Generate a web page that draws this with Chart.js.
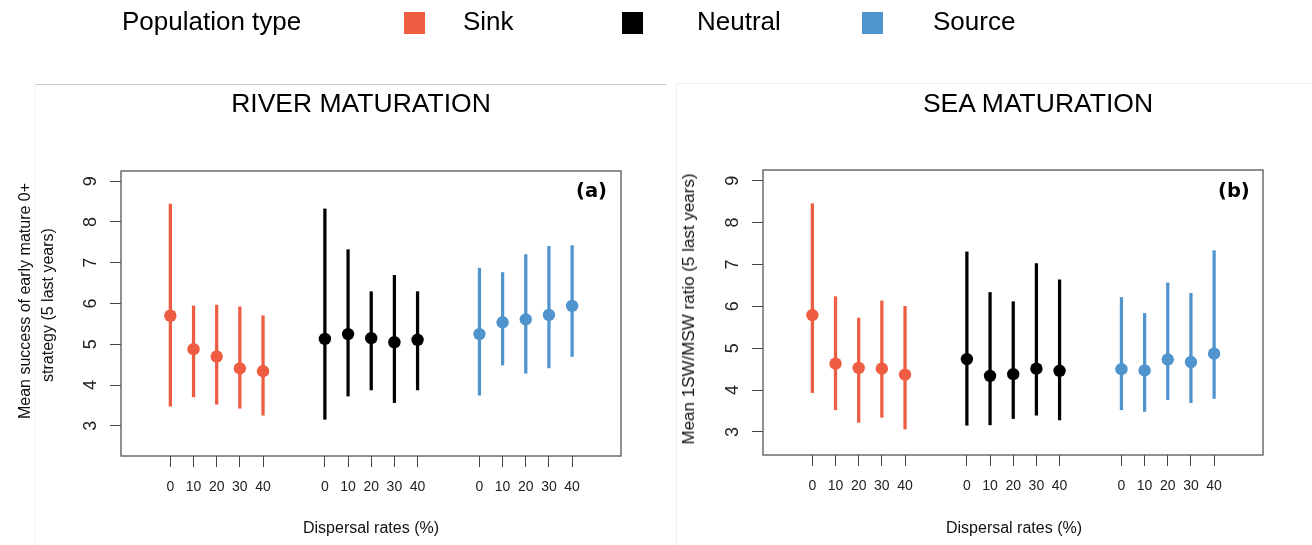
<!DOCTYPE html>
<html>
<head>
<meta charset="utf-8">
<script src="https://cdn.jsdelivr.net/npm/chart.js@4.4.1/dist/chart.umd.min.js"></script>
<style>
body { margin: 0; background: #fff; width: 1312px; height: 545px; position: relative; overflow: hidden; font-family: "Liberation Sans", Arial, sans-serif; color: #000; }
.t { position: absolute; white-space: nowrap; }
.sq { position: absolute; width: 21px; height: 22px; top: 12px; }
.rot { position: absolute; white-space: nowrap; transform: translate(-50%, -50%) rotate(-90deg); font-size: 16px; color: #111; }
.ttl { position: absolute; white-space: nowrap; transform: translateX(-50%); font-size: 26.5px; top: 88px; }
.xt { position: absolute; white-space: nowrap; transform: translateX(-50%); font-size: 16px; top: 519px; color: #111; }
.tag { position: absolute; font-family: "DejaVu Sans", sans-serif; font-weight: bold; font-size: 19.5px; top: 179px; }
canvas { position: absolute; top: 0; }
</style>
</head>
<body>
<div style="position:absolute;left:35px;top:84px;width:630px;height:470px;border-top:1.5px solid #c8c8c8;border-left:1px solid #f3f3f3;"></div>
<div style="position:absolute;left:676px;top:83px;width:640px;height:470px;border-top:1px solid #eeeeee;border-left:1px solid #eeeeee;"></div>

<canvas id="river" width="665" height="545" style="left:0px"></canvas>
<canvas id="sea" width="647" height="545" style="left:665px"></canvas>

<div class="t" style="left:122px;top:6px;font-size:26px;">Population type</div>
<div class="sq" style="left:404px;background:#EE5C42;"></div>
<div class="t" style="left:463px;top:6px;font-size:26px;">Sink</div>
<div class="sq" style="left:622px;background:#000;"></div>
<div class="t" style="left:697px;top:6px;font-size:26px;">Neutral</div>
<div class="sq" style="left:862px;background:#4F94CD;"></div>
<div class="t" style="left:933px;top:6px;font-size:26px;">Source</div>

<div class="ttl" style="left:361px;">RIVER MATURATION</div>
<div class="ttl" style="left:1038px;">SEA MATURATION</div>

<div class="rot" style="left:25px;top:301px;">Mean success of early mature 0+</div>
<div class="rot" style="left:48px;top:305px;">strategy (5 last years)</div>
<div class="rot" style="left:689px;top:309px;font-size:17px;">Mean 1SW/MSW ratio (5 last years)</div>

<div class="xt" style="left:371px;">Dispersal rates (%)</div>
<div class="xt" style="left:1014px;">Dispersal rates (%)</div>

<div class="tag" style="left:576px;">(a)</div>
<div class="tag" style="left:1218px;">(b)</div>

<script>
var rates = ['0', '10', '20', '30', '40'];
var groups = ['Sink', 'Neutral', 'Source'];
var groupColors = ['#EE5C42', '#000000', '#4F94CD'];
var yTicks = [3, 4, 5, 6, 7, 8, 9];

// river maturation: mean, lower and upper end of each bar
var riverSinkMean = [5.70, 4.88, 4.70, 4.41, 4.34];
var riverSinkLow = [3.48, 3.71, 3.53, 3.43, 3.26];
var riverSinkHigh = [8.44, 5.94, 5.96, 5.92, 5.70];
var riverNeutralMean = [5.13, 5.25, 5.15, 5.05, 5.11];
var riverNeutralLow = [3.16, 3.73, 3.88, 3.57, 3.88];
var riverNeutralHigh = [8.32, 7.32, 6.29, 6.69, 6.29];
var riverSourceMean = [5.25, 5.54, 5.61, 5.72, 5.94];
var riverSourceLow = [3.75, 4.49, 4.29, 4.42, 4.70];
var riverSourceHigh = [6.87, 6.76, 7.20, 7.40, 7.42];

// sea maturation
var seaSinkMean = [5.79, 4.63, 4.53, 4.51, 4.37];
var seaSinkLow = [3.94, 3.53, 3.23, 3.35, 3.07];
var seaSinkHigh = [8.45, 6.23, 5.72, 6.13, 6.00];
var seaNeutralMean = [4.74, 4.34, 4.38, 4.51, 4.46];
var seaNeutralLow = [3.16, 3.17, 3.32, 3.40, 3.29];
var seaNeutralHigh = [7.30, 6.33, 6.11, 7.02, 6.63];
var seaSourceMean = [4.50, 4.47, 4.73, 4.67, 4.87];
var seaSourceLow = [3.53, 3.49, 3.77, 3.70, 3.80];
var seaSourceHigh = [6.21, 5.83, 6.56, 6.31, 7.33];

// slot of each rate on the x axis, groups separated by a gap
var groupGap = 6.67;
function slot(g, i) { return g * groupGap + i; }
var allSlots = [];
for (var g = 0; g < groups.length; g++) {
    for (var i = 0; i < rates.length; i++) allSlots.push(slot(g, i));
}

var boxPlugin = {
    id: 'rbox',
    afterDraw: function (chart) {
        var ctx = chart.ctx;
        var a = chart.chartArea;
        ctx.save();
        ctx.strokeStyle = '#555';
        ctx.lineWidth = 1.3;
        ctx.strokeRect(a.left, a.top, a.right - a.left, a.bottom - a.top);

        ctx.fillStyle = '#222';
        ctx.font = '18px "Liberation Sans", Arial, sans-serif';
        ctx.textAlign = 'center';
        ctx.textBaseline = 'middle';
        var ys = chart.scales.y;
        ys.ticks.forEach(function (t) {
            var py = ys.getPixelForValue(t.value);
            ctx.save();
            ctx.translate(a.left - 30, py);
            ctx.rotate(-Math.PI / 2);
            ctx.fillText(String(t.value), 0, 0);
            ctx.restore();
        });

        ctx.font = '14px "Liberation Sans", Arial, sans-serif';
        var xs = chart.scales.x;
        xs.ticks.forEach(function (t, k) {
            ctx.fillText(rates[k % rates.length], xs.getPixelForValue(t.value), a.bottom + 31);
        });
        ctx.restore();
    }
};

function makeChart(id, means, lows, highs, yMin, yMax, pad) {
    var datasets = [];
    for (var g = 0; g < groups.length; g++) {
        var bars = [], dots = [];
        for (var i = 0; i < rates.length; i++) {
            bars.push({ x: slot(g, i), y: [lows[g][i], highs[g][i]] });
            dots.push({ x: slot(g, i), y: means[g][i] });
        }
        datasets.push({
            type: 'bar',
            label: groups[g],
            data: bars,
            backgroundColor: groupColors[g],
            borderWidth: 0,
            barThickness: 2.6,
            grouped: false,
            order: 2
        });
        datasets.push({
            type: 'scatter',
            label: groups[g],
            data: dots,
            backgroundColor: groupColors[g],
            borderWidth: 0,
            pointRadius: 6.2,
            pointHoverRadius: 6.2,
            order: 1
        });
    }

    return new Chart(document.getElementById(id), {
        type: 'bar',
        data: { datasets: datasets },
        options: {
            responsive: false,
            animation: false,
            events: [],
            layout: { padding: pad },
            plugins: { legend: { display: false }, tooltip: { enabled: false } },
            scales: {
                x: {
                    type: 'linear',
                    min: -2.13,
                    max: 19.45,
                    offset: false,
                    afterFit: function (s) { s.height = 0; },
                    afterBuildTicks: function (s) { s.ticks = allSlots.map(function (v) { return { value: v }; }); },
                    grid: { offset: false, drawOnChartArea: false, drawTicks: true, tickLength: 11, color: '#444', lineWidth: 1 },
                    border: { display: false },
                    ticks: { display: false, autoSkip: false }
                },
                y: {
                    type: 'linear',
                    min: yMin,
                    max: yMax,
                    afterFit: function (s) { s.width = 0; },
                    afterBuildTicks: function (s) { s.ticks = yTicks.map(function (v) { return { value: v }; }); },
                    grid: { drawOnChartArea: false, drawTicks: true, tickLength: 11, color: '#444', lineWidth: 1 },
                    border: { display: false },
                    ticks: { display: false, autoSkip: false }
                }
            }
        },
        plugins: [boxPlugin]
    });
}

makeChart('river',
    [riverSinkMean, riverNeutralMean, riverSourceMean],
    [riverSinkLow, riverNeutralLow, riverSourceLow],
    [riverSinkHigh, riverNeutralHigh, riverSourceHigh],
    2.26, 9.25, { left: 121, top: 171, right: 44, bottom: 89 });

makeChart('sea',
    [seaSinkMean, seaNeutralMean, seaSourceMean],
    [seaSinkLow, seaNeutralLow, seaSourceLow],
    [seaSinkHigh, seaNeutralHigh, seaSourceHigh],
    2.45, 9.255, { left: 98, top: 170, right: 49, bottom: 90 });
</script>
</body>
</html>
